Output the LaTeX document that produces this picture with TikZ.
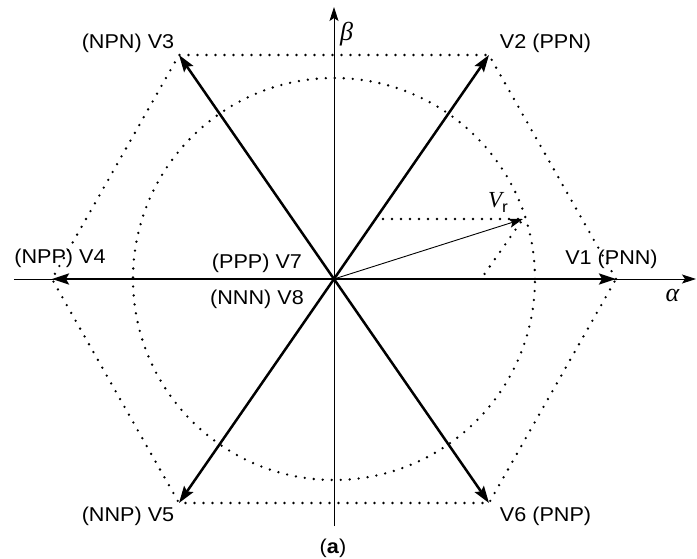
\documentclass[tikz,border=0pt]{standalone}
\usepackage{fontspec}
\setmainfont{Liberation Sans}[FakeStretch=1.08]
\newfontfamily\greekfont{Liberation Serif}
\usetikzlibrary{arrows.meta, positioning}

\begin{document}
\begin{tikzpicture}[x=1pt, y=1pt, font=\fontsize{20}{24}\selectfont]
	% Define styles
	\tikzstyle{vec} = [draw, line width=2.5pt, -{Stealth[length=17pt, width=11pt, inset=3pt]}]
	\tikzstyle{axis} = [draw, line width=0.9pt, -{Stealth[length=14pt, width=9pt, inset=3pt]}]
	\tikzstyle{refvec} = [draw, line width=0.9pt, -{Stealth[length=14pt, width=9pt, inset=3pt]}]
	\tikzstyle{dots} = [draw, line width=2.6pt, line cap=round, dash pattern=on 0pt off 9pt]
	\tikzstyle{lab} = [anchor=base, inner sep=0pt]
	\tikzstyle{sym} = [inner sep=0pt, font=\fontsize{26}{28}\greekfont\itshape]

	\useasboundingbox (-334,-279) rectangle (363,279);

	% Origin and the six active vectors
	\node [coordinate] (o) at (0,0) {};
	\node [coordinate] (v1) at (282,0) {};
	\node [coordinate] (v2) at (155,224) {};
	\node [coordinate] (v3) at (-155,224) {};
	\node [coordinate] (v4) at (-282,0) {};
	\node [coordinate] (v5) at (-155,-224) {};
	\node [coordinate] (v6) at (155,-224) {};

	% Axis ends
	\node [coordinate] (aleft) at (-320,0) {};
	\node [coordinate] (aright) at (362,0) {};
	\node [coordinate] (bbot) at (0,-247) {};
	\node [coordinate] (btop) at (0,272) {};

	% Reference vector and its components
	\node [coordinate] (vr) at (189,60) {};
	\node [coordinate] (pa) at (49,60) {};
	\node [coordinate] (pb) at (147,0) {};

	% Hexagon and circle
	\draw [dots] (v1) -- (v2) -- (v3) -- (v4) -- (v5) -- (v6) -- cycle;
	\draw [dots] (o) circle (201);

	% Axes
	\draw [axis] (aleft) -- (aright);
	\draw [axis] (bbot) -- (btop);

	% Active vectors
	\foreach \v in {v1,v2,v3,v4,v5,v6}
		\draw [vec] (o) -- (\v);

	% Reference vector
	\draw [refvec] (o) -- (vr);
	\draw [dots] (pa) -- (vr) -- (pb);

	% Labels
	\node [lab] (l1) at (277.5,15) {V1 (PNN)};
	\node [lab] (l2) at (211.6,231) {V2 (PPN)};
	\node [lab] (l3) at (-206,231) {(NPN) V3};
	\node [lab] (l4) at (-274,15.6) {(NPP) V4};
	\node [lab] (l5) at (-206,-242.5) {(NNP) V5};
	\node [lab] (l6) at (211.6,-242.5) {V6 (PNP)};
	\node [lab] (l7) at (-77,11) {(PPP) V7};
	\node [lab] (l8) at (-77,-25) {(NNN) V8};
	\node [lab] (cap) at (-1,-274) {(\textbf{a})};
	\node [sym] (alpha) at (338.5,-16.5) {α};
	\node [sym] (beta) at (12.6,245) {β};
	\node [sym, anchor=base, font=\fontsize{23}{26}\greekfont\itshape] (vrlab) at (164,72) {V\raisebox{-5pt}{\fontsize{16}{18}\rmfamily\upshape r}};
\end{tikzpicture}
\end{document}
